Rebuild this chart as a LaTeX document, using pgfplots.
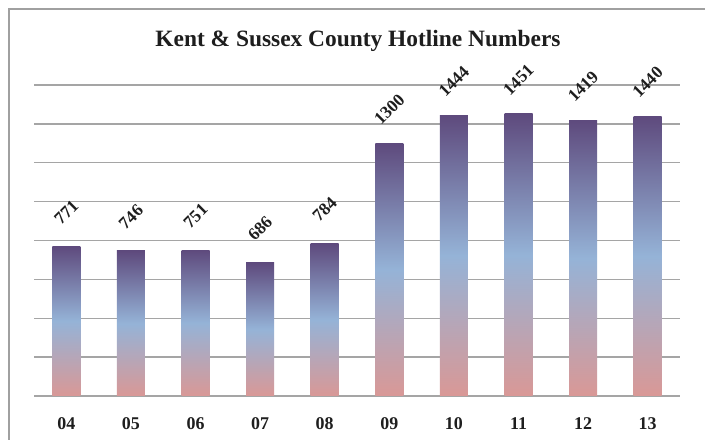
\documentclass[border=0pt]{standalone}
\usepackage{fontspec}
\setmainfont{Liberation Serif}
\usepackage{pgfplots}
\pgfplotsset{compat=1.18}
\definecolor{bartop}{HTML}{5E4A7D}
\definecolor{barmid}{HTML}{95B3D7}
\definecolor{barbot}{HTML}{D99896}
\definecolor{gridc}{HTML}{A5A5A5}
\definecolor{framec}{HTML}{A0A0A0}
\definecolor{txt}{HTML}{1E1E1E}

% one plot per bar so that each bar gets its own gradient
\pgfplotsset{hotbar/.style={draw=none, top color=bartop, bottom color=barbot, middle color=barmid}}

\begin{document}
\begin{tikzpicture}
\clip (-34bp,-44bp) rectangle (671bp,396bp);
\fill[white] (-34bp,-44bp) rectangle (671bp,396bp);
\draw[framec, line width=1.2bp] (-25bp,-50bp) -- (-25bp,387bp) -- (690bp,387bp);
\node[txt, font=\bfseries\fontsize{23.5}{27}\selectfont] at (324bp,355bp) {Kent \& Sussex County  Hotline Numbers};
\begin{axis}[
  scale only axis, width=646bp, height=311bp,
  xmin=-0.5, xmax=9.5, ymin=0, ymax=1600,
  ybar, bar width=28bp, bar shift=0pt,
  ytick={0,200,...,1600}, yticklabels={},
  xtick={0,...,9}, xticklabels={04,05,06,07,08,09,10,11,12,13},
  xticklabel style={txt, font=\bfseries\fontsize{18}{20}\selectfont, anchor=base, yshift=-33bp},
  axis line style={draw=none}, major tick length=0pt,
  ymajorgrids, grid style={gridc, line width=1.3bp},
  clip=false,
  nodes near coords={\pgfmathprintnumber[assume math mode=true, 1000 sep={}]{\pgfplotspointmeta}},
  nodes near coords style={txt, font=\bfseries\fontsize{17.5}{20}\selectfont, yshift=34bp, rotate=45, anchor=center},
]
\addplot[hotbar] coordinates {(0,771)};
\addplot[hotbar] coordinates {(1,746)};
\addplot[hotbar] coordinates {(2,751)};
\addplot[hotbar] coordinates {(3,686)};
\addplot[hotbar] coordinates {(4,784)};
\addplot[hotbar] coordinates {(5,1300)};
\addplot[hotbar] coordinates {(6,1444)};
\addplot[hotbar] coordinates {(7,1451)};
\addplot[hotbar] coordinates {(8,1419)};
\addplot[hotbar] coordinates {(9,1440)};
\end{axis}
\end{tikzpicture}
\end{document}
